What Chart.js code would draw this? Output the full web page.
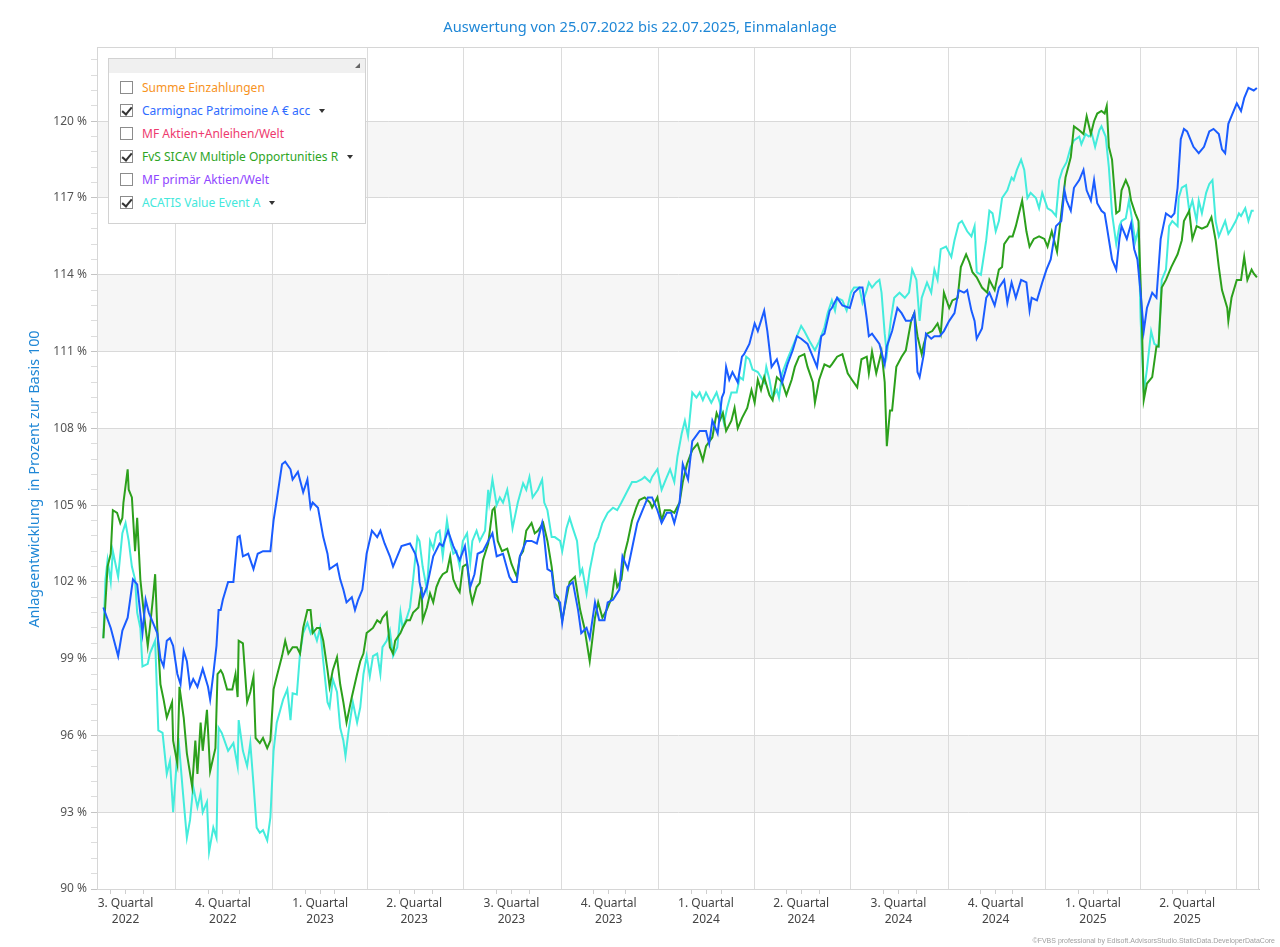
<!DOCTYPE html>
<html>
<head>
<meta charset="utf-8">
<script src="https://cdn.jsdelivr.net/npm/chart.js@4.4.0/dist/chart.umd.min.js"></script>
<style>
html,body{margin:0;padding:0;background:#fff;}
#wrap{position:relative;width:1280px;height:947px;overflow:hidden;}
canvas{display:block;}
#legend{position:absolute;left:108px;top:58px;width:258px;height:166px;border:1px solid #d2d2d2;background:#fff;box-sizing:border-box;font-family:'Noto Sans','Open Sans',sans-serif;font-size:12px;}
#legend .head{position:absolute;left:0;top:0;right:0;height:14px;background:#f0f0f0;}
#legend .grip{position:absolute;right:5px;top:4px;width:0;height:0;border-left:5px solid transparent;border-bottom:5px solid #666;}
#legend .row{position:absolute;left:11px;height:18px;line-height:18px;white-space:nowrap;}
#legend .box{position:absolute;left:0;top:2px;width:13px;height:13px;border:1px solid #8c8c8c;box-sizing:border-box;background:#fff;}
#legend .chk{position:absolute;left:3px;top:0px;width:4px;height:8px;border-right:2px solid #333;border-bottom:2px solid #333;transform:rotate(40deg);}
#legend .txt{position:absolute;left:22px;top:0;}
#legend .dd{display:inline-block;width:0;height:0;border-left:3px solid transparent;border-right:3px solid transparent;border-top:4px solid #333;margin-left:9px;vertical-align:middle;position:relative;top:-1px;}
</style>
</head>
<body>
<div id="wrap">
<canvas id="c" width="1280" height="947"></canvas>
<div id="legend"><div class="head"><div class="grip"></div></div></div>
</div>
<script>
// ---------- data (x = days after 25.07.2022, y = % of base 100) ----------
const titleText = 'Auswertung von 25.07.2022 bis 22.07.2025, Einmalanlage';
const yAxisTitle = 'Anlageentwicklung  in Prozent zur Basis 100';
const creditText = '\u00A9FVBS professional by Edisoft.AdvisorsStudio.StaticData.DeveloperDataCore';

const carmignacDays = [0,7,14,18,23,28,32,37,40,43,
46,51,54,57,60,63,66,70,73,76,
79,82,85,89,94,99,101,104,107,109,
111,113,118,123,127,129,132,137,142,146,
151,158,161,164,169,172,177,179,184,189,
193,196,198,203,208,212,214,221,224,227,
230,235,238,241,245,249,254,259,262,266,
271,274,282,290,295,298,299,302,306,312,
318,321,326,331,337,342,347,351,354,359,
364,368,372,378,384,387,391,394,400,405,
410,415,417,420,424,427,432,434,439,444,
449,452,457,460,465,469,474,477,482,488,
491,496,501,505,510,515,519,524,528,533,
537,540,545,548,553,557,564,570,573,576,
581,585,587,589,592,595,600,604,606,611,
616,619,622,625,628,632,637,639,642,647,
652,656,660,666,671,675,679,682,687,689,
694,699,706,710,715,718,722,724,727,734,
739,741,746,751,755,759,764,767,770,772,
776,778,783,786,791,795,800,805,809,814,
817,821,824,826,831,835,838,843,847,852,
855,859,863,868,873,876,878,883,888,892,
896,901,906,909,911,915,918,923,927,930,
934,937,940,944,947,949,954,958,961,963,
968,972,975,978,981,984,987,992,996,1000,
1005,1010,1013,1016,1019,1022,1025,1028,1031,1036,
1041,1046,1050,1055,1058,1061,1064,1067,1072,1076,
1079,1083,1088,1091];
const carmignacValues = [101.0,100.2,99.1,100.1,100.6,102.1,101.9,100.0,101.3,100.8,
100.5,100.0,99.0,98.7,99.7,99.8,99.5,98.4,98.0,99.3,
98.9,97.9,98.2,97.9,98.6,97.9,97.4,98.4,99.5,100.9,
100.9,101.3,102.0,102.0,103.75,103.8,103.0,103.1,102.5,103.1,
103.2,103.2,104.4,105.2,106.6,106.7,106.4,106.0,106.3,105.5,
106.0,104.9,105.1,104.9,103.75,103.1,102.5,102.7,102.1,101.7,
101.2,101.4,100.9,101.3,101.7,103.1,104.0,103.75,104.0,103.5,
103.0,102.6,103.4,103.5,103.1,102.6,102.0,101.4,101.8,103.0,
103.5,103.4,104.0,103.4,102.85,103.4,101.8,102.3,103.1,103.2,
103.6,103.9,103.0,103.1,102.2,102.0,102.0,103.0,103.6,103.6,
103.5,104.3,103.7,102.5,102.4,101.4,101.2,100.4,101.8,102.0,
100.9,100.0,100.2,99.8,101.2,100.5,100.5,101.2,101.3,101.7,
103.0,102.5,103.5,104.3,104.8,105.3,105.3,104.8,104.3,104.7,
104.7,104.3,105.1,106.6,106.0,107.5,107.9,107.9,107.4,108.3,
107.8,109.2,109.4,110.4,109.9,110.2,109.8,110.8,110.9,111.3,
112.1,111.8,112.2,112.6,111.8,110.4,110.7,110.4,109.8,110.5,
111.05,111.6,111.5,111.3,110.8,110.4,111.6,111.7,112.6,112.7,
113.1,112.8,112.7,113.3,113.5,113.5,112.3,111.6,111.7,111.3,
110.5,111.2,111.8,112.7,112.5,112.2,112.2,112.5,110.2,110.0,
110.9,111.7,111.5,111.6,111.6,111.8,112.2,112.5,113.4,113.3,
113.4,112.6,112.2,111.5,111.9,113.1,113.3,112.8,113.5,113.8,
112.9,113.7,113.1,113.8,113.7,112.6,113.1,113.0,113.7,114.2,
114.6,115.9,116.1,117.3,116.9,116.5,117.4,117.7,118.1,117.3,
116.9,117.7,116.8,116.5,116.4,115.9,114.6,114.2,115.4,115.9,
115.4,116.0,115.0,114.6,113.3,111.8,112.7,113.3,113.1,115.4,
116.4,116.25,116.4,117.4,119.3,119.7,119.6,119.3,119.0,118.75,
119.0,119.6,119.7,119.5,118.9,118.75,119.9,120.2,120.7,120.4,
120.9,121.3,121.2,121.3];

const fvsDays = [0,4,7,9,13,16,18,19,23,24,
27,30,32,35,38,42,44,47,49,51,
54,57,60,65,66,70,72,76,79,84,
87,89,92,94,98,101,106,108,111,113,
117,122,125,127,128,132,136,139,142,144,
148,151,155,158,161,164,169,172,175,179,
183,186,189,193,196,198,202,205,208,212,
214,217,221,224,227,230,235,240,243,246,
249,252,255,259,262,264,268,271,274,276,
281,283,287,290,293,298,301,302,306,309,
312,315,318,321,325,328,331,334,337,340,
344,347,349,353,356,359,364,368,370,373,
377,382,386,391,394,397,400,405,408,411,
416,420,424,427,430,434,441,446,451,455,
460,465,468,472,476,481,484,486,490,493,
496,500,504,507,512,517,519,524,528,531,
536,540,545,548,552,557,562,567,570,576,
580,583,586,589,594,597,600,604,609,613,
616,619,622,625,630,633,637,642,646,651,
654,658,663,666,671,673,677,682,687,689,
694,699,704,708,713,717,722,724,727,731,
736,739,741,744,746,750,755,759,764,767,
770,774,776,779,784,789,792,795,800,803,
808,811,816,819,822,826,831,836,838,843,
847,850,852,857,860,863,866,869,873,876,
880,885,890,893,897,902,906,910,915,918,
923,927,930,934,937,940,944,947,949,951,
954,958,961,963,967,970,972,976,979,982,
984,987,992,996,998,1001,1005,1010,1016,1020,
1022,1027,1030,1034,1039,1044,1048,1052,1055,1058,
1063,1064,1067,1072,1076,1079,1082,1086,1088,1091];
const fvsValues = [99.8,102.6,103.1,104.8,104.7,104.3,104.5,105.1,106.4,105.6,
105.3,103.2,104.5,102.1,100.9,99.5,100.2,101.4,102.3,100.2,
98.0,97.4,96.7,97.3,95.8,94.9,97.9,96.7,95.3,94.0,
95.8,94.5,96.5,95.4,97.0,94.6,95.5,98.4,98.55,98.4,
97.8,97.8,98.4,97.5,99.7,99.6,97.3,97.7,98.3,95.9,
95.7,95.9,95.5,95.8,97.8,98.3,99.1,99.7,99.2,99.45,
99.45,99.2,100.2,100.9,100.9,100.0,100.2,100.2,99.7,98.55,
97.9,98.55,99.06,98.0,97.3,96.5,97.5,98.4,98.9,99.2,
100.0,100.1,100.2,100.5,100.4,100.6,100.8,99.45,99.2,99.7,
100.0,100.2,100.5,100.5,100.8,101.0,101.8,100.5,101.0,101.55,
101.2,101.8,102.1,102.3,102.4,103.0,102.1,101.8,101.6,102.6,
102.7,101.6,101.2,101.8,101.95,102.85,103.5,104.8,104.9,103.6,
103.2,103.3,102.7,102.2,103.0,103.2,104.0,104.3,103.9,104.0,
104.3,103.6,102.6,101.55,101.4,100.5,102.0,102.2,100.9,100.2,
98.9,100.6,101.2,100.6,100.9,101.4,102.3,101.8,102.1,103.1,
103.6,104.4,104.9,105.2,105.3,105.1,104.9,105.3,104.4,104.8,
104.8,104.7,105.1,105.9,106.6,107.15,107.4,106.75,107.3,107.65,
108.6,108.3,108.6,107.9,108.3,108.8,108.0,108.4,108.8,109.5,
109.0,109.9,109.5,110.0,109.3,109.1,110.0,109.8,109.3,109.9,
110.4,110.8,110.9,110.4,109.8,109.0,109.9,110.5,110.4,110.5,
110.8,110.9,110.15,109.9,109.6,110.7,110.8,110.15,111.0,110.15,
111.0,109.8,107.3,108.7,108.7,110.4,110.8,111.05,112.2,112.5,
111.6,110.9,111.3,111.7,111.8,112.1,111.7,113.3,112.7,113.0,
113.1,114.3,114.8,114.5,114.1,113.9,113.5,113.3,113.8,113.4,
114.2,114.3,115.2,115.5,115.5,115.9,116.4,116.9,115.7,115.1,
115.4,115.5,115.4,115.1,115.7,114.9,116.4,117.8,118.6,119.8,
119.65,119.5,120.2,119.5,120.0,120.3,120.4,120.3,120.6,119.0,
118.5,116.4,116.5,117.3,117.7,117.4,116.9,116.4,116.1,112.5,
109.1,109.75,110.0,111.2,111.2,113.5,113.8,114.3,114.8,115.35,
116.1,116.5,115.4,115.9,115.8,115.9,116.25,115.35,114.3,113.4,
112.7,112.2,113.1,113.8,113.8,114.7,113.8,114.2,114.05,113.9];

const acatisDays = [0,2,4,7,9,14,18,21,24,27,
30,32,35,37,42,44,49,52,56,60,
63,66,71,75,79,82,85,89,92,94,
98,100,104,107,109,112,118,123,127,128,
132,136,139,142,145,148,151,155,158,161,
164,170,174,177,179,183,186,189,193,196,
198,202,205,208,212,214,217,221,224,227,
229,232,236,240,243,246,249,252,255,259,
262,264,268,271,274,278,281,283,287,290,
293,297,299,302,306,309,312,315,318,321,
325,328,331,334,337,340,344,347,349,353,
356,361,364,365,368,372,375,378,382,384,
387,392,397,400,403,406,411,415,417,420,
424,427,432,434,438,441,444,448,451,453,
457,460,465,468,472,477,482,486,490,495,
500,504,509,512,517,519,524,528,533,536,
540,543,547,550,553,557,561,564,567,570,
575,580,583,587,590,594,599,602,605,608,
611,614,619,622,625,627,630,633,637,639,
642,647,652,656,660,663,668,673,677,682,
685,689,692,694,699,703,707,710,715,718,
722,724,727,731,734,736,739,741,745,748,
753,758,762,765,769,772,774,779,783,786,
789,792,797,802,805,809,812,817,821,824,
826,830,835,838,841,844,847,850,855,859,
861,864,868,871,874,877,882,885,888,893,
897,901,904,907,911,915,918,923,925,929,
932,935,938,942,944,948,951,954,958,961,
963,967,970,972,976,979,981,984,987,991,
994,998,1001,1005,1008,1011,1016,1017,1020,1024,
1027,1030,1034,1036,1039,1043,1046,1049,1052,1055,
1058,1061,1064,1067,1071,1074,1076,1080,1083,1086,
1088];
const acatisValues = [99.8,102.1,102.85,102.0,103.2,102.2,103.9,104.3,103.6,102.6,
102.1,100.8,100.2,98.7,98.8,99.2,99.7,96.2,96.1,94.5,
95.0,93.0,95.9,93.9,92.0,92.7,94.0,93.2,93.75,93.0,
93.4,91.45,92.4,92.0,96.3,96.1,95.4,95.7,94.8,96.6,
95.4,94.8,95.7,94.1,92.4,92.2,92.3,91.9,92.8,95.4,
96.5,97.4,97.8,96.6,97.65,97.6,99.2,100.0,100.4,100.0,
100.2,99.7,100.2,98.9,97.3,97.1,98.2,97.7,96.3,95.8,
95.2,96.2,97.3,96.5,97.1,98.4,99.1,98.3,99.1,99.2,
98.4,99.45,99.7,100.1,99.1,99.45,100.8,100.2,100.6,101.0,
102.1,103.75,103.6,102.6,101.7,103.6,103.3,103.9,104.0,103.0,
104.4,103.6,103.1,103.2,102.6,103.6,103.9,102.75,103.6,104.0,
103.6,104.0,105.6,105.1,106.0,105.0,105.3,105.1,105.6,105.1,
104.1,105.1,105.85,105.6,106.1,105.3,105.6,106.0,105.1,104.8,
103.75,103.75,103.6,103.2,104.1,104.5,104.1,103.6,102.3,102.5,
101.55,102.45,103.5,103.75,104.3,104.7,104.9,104.8,105.1,105.5,
105.9,105.9,106.0,106.1,105.9,106.1,106.4,105.6,106.1,106.4,
105.9,106.9,107.8,108.3,107.7,109.4,109.2,109.4,109.1,109.4,
109.0,109.4,109.0,108.2,108.8,109.4,109.4,110.0,109.9,110.8,
110.7,110.3,110.2,110.0,109.8,110.4,109.9,109.2,109.5,109.2,
110.15,110.7,111.2,111.6,112.0,111.8,111.4,111.05,111.4,111.95,
112.5,113.0,112.6,113.1,113.0,112.6,113.3,113.5,113.5,112.9,
113.4,113.7,113.5,113.7,113.8,113.3,111.7,110.9,112.3,113.1,
113.3,113.1,113.3,114.2,113.8,112.2,113.1,113.7,113.3,114.2,
113.8,115.0,115.1,114.7,115.35,116.0,116.1,115.7,115.5,115.9,
114.1,114.0,115.35,116.5,116.4,115.7,116.1,117.0,117.3,117.8,
117.7,118.1,118.5,118.1,117.0,117.2,117.0,116.6,117.2,116.6,
116.5,116.3,117.7,118.1,118.4,119.0,119.25,119.4,119.1,119.5,
119.4,119.5,119.0,119.65,119.8,119.4,118.2,116.4,115.2,115.9,
116.1,116.2,116.9,116.4,115.3,115.8,112.3,109.4,110.3,111.8,
111.3,111.2,113.8,114.2,115.9,116.1,115.9,117.0,117.4,117.5,
116.5,116.9,116.1,116.9,116.4,117.2,117.55,117.7,116.1,115.5,
115.8,116.1,115.6,115.8,116.1,116.4,116.3,116.6,116.1,116.5,
116.5];

const seriesNames = ['Carmignac Patrimoine A \u20AC acc','FvS SICAV Multiple Opportunities R','ACATIS Value Event A'];
const seriesColors = ['#1a5cff','#2ca01c','#44ecdc'];

const legendNames = ['Summe Einzahlungen','Carmignac Patrimoine A \u20AC acc','MF Aktien+Anleihen/Welt','FvS SICAV Multiple Opportunities R','MF prim\u00E4r Aktien/Welt','ACATIS Value Event A'];
const legendColors = ['#f7931e','#2f6cff','#ee3a6e','#2ea51f','#8f46ff','#44e8dc'];
const legendChecked = [false,true,false,true,false,true];

const yMajorTicks = [90,93,96,99,102,105,108,111,114,117,120];
const yMinorStep = 0.6;
const yMin = 90, yMax = 122.9;
const grayBands = [[93,96],[99,102],[105,108],[111,114],[117,120]];

const quarterStarts = [68,160,250,341,433,525,616,707,799,891,981,1072];
const monthStarts = [7,38,99,129,191,219,280,311,372,403,464,494,556,585,646,677,738,769,830,860,922,950,1011,1042];
const quarterLabelDays = [21,113,205,294,386,478,570,660,752,844,936,1025];
const quarterLabels = [['3. Quartal','2022'],['4. Quartal','2022'],['1. Quartal','2023'],['2. Quartal','2023'],['3. Quartal','2023'],['4. Quartal','2023'],['1. Quartal','2024'],['2. Quartal','2024'],['3. Quartal','2024'],['4. Quartal','2024'],['1. Quartal','2025'],['2. Quartal','2025']];
const xMin = -6, xMax = 1093;

// ---------- build ----------
const FONT = "'Noto Sans','Open Sans',sans-serif";
const toPts = (days, vals) => vals.map((v, i) => ({x: days[i], y: v}));
const seriesData = [toPts(carmignacDays, carmignacValues), toPts(fvsDays, fvsValues), toPts(acatisDays, acatisValues)];

const yAllTicks = [];
for (let k = 0; yMin + k * yMinorStep <= yMax + 1e-9; k++) yAllTicks.push(Math.round((yMin + k * yMinorStep) * 100) / 100);
const isMajorY = v => yMajorTicks.some(m => Math.abs(m - v) < 1e-6);

const xAllTicks = Array.from(new Set([...quarterStarts, ...monthStarts, ...quarterLabelDays])).sort((a, b) => a - b);
const isQuarter = v => quarterStarts.includes(v);
const labelIdx = v => quarterLabelDays.indexOf(v);

// legend (html text)
const leg = document.getElementById('legend');
const rowTops = [20, 43, 66, 89, 112, 135];
legendNames.forEach((n, i) => {
  const r = document.createElement('div');
  r.className = 'row';
  r.style.top = rowTops[i] + 'px';
  const b = document.createElement('div'); b.className = 'box';
  if (legendChecked[i]) { const c = document.createElement('div'); c.className = 'chk'; b.appendChild(c); }
  r.appendChild(b);
  const t = document.createElement('div'); t.className = 'txt'; t.style.color = legendColors[i];
  t.textContent = n;
  if (legendChecked[i]) { const d = document.createElement('span'); d.className = 'dd'; t.appendChild(d); }
  r.appendChild(t);
  leg.appendChild(r);
});

const bandsPlugin = {
  id: 'bands',
  beforeDraw(chart) {
    const {ctx, chartArea: a, scales: {y}} = chart;
    ctx.save();
    ctx.fillStyle = '#f6f6f6';
    grayBands.forEach(([lo, hi]) => {
      const t = y.getPixelForValue(hi), bt = y.getPixelForValue(lo);
      ctx.fillRect(a.left, t, a.right - a.left, bt - t);
    });
    ctx.restore();
  },
  afterDraw(chart) {
    const {ctx, chartArea: a} = chart;
    ctx.save();
    ctx.strokeStyle = '#d6d6d6';
    ctx.lineWidth = 1;
    ctx.strokeRect(a.left + 0.5, a.top + 0.5, a.right - a.left - 1, a.bottom - a.top);
    ctx.fillStyle = '#1f87d6';
    ctx.textAlign = 'center';
    ctx.textBaseline = 'middle';
    ctx.font = '14.6px ' + FONT;
    ctx.fillText(titleText, 640, 28);
    ctx.font = '14.4px ' + FONT;
    ctx.translate(35, 479);
    ctx.rotate(-Math.PI / 2);
    ctx.fillText(yAxisTitle, 0, 0);
    ctx.restore();
    ctx.save();
    ctx.fillStyle = '#a0a0a0';
    ctx.font = "7px 'Liberation Sans', Arial, sans-serif";
    ctx.textAlign = 'right';
    ctx.textBaseline = 'middle';
    ctx.fillText(creditText, 1275, 941);
    ctx.restore();
  }
};

new Chart(document.getElementById('c'), {
  type: 'line',
  data: {
    datasets: seriesNames.map((n, i) => ({
      label: n,
      data: seriesData[i],
      borderColor: seriesColors[i],
      backgroundColor: seriesColors[i],
      borderWidth: 2,
      pointRadius: 0,
      tension: 0,
      fill: false,
      order: i
    }))
  },
  options: {
    responsive: false,
    animation: false,
    devicePixelRatio: 1,
    layout: {padding: {top: 47, right: 21, left: 0, bottom: 0}},
    plugins: {legend: {display: false}, tooltip: {enabled: false}, title: {display: false}},
    scales: {
      x: {
        type: 'linear', min: xMin, max: xMax,
        afterBuildTicks(s) { s.ticks = xAllTicks.map(v => ({value: v})); },
        afterFit(s) { s.height = 58; },
        border: {color: '#c8c8c8'},
        grid: {
          color: c => (c.tick && isQuarter(c.tick.value)) ? '#dcdcdc' : 'rgba(0,0,0,0)',
          tickColor: c => (c.tick && isQuarter(c.tick.value)) ? 'rgba(0,0,0,0)' : '#cfcfcf',
          tickLength: 5, lineWidth: 1
        },
        ticks: {
          autoSkip: false, maxRotation: 0, minRotation: 0, padding: 2,
          color: '#444', font: {family: FONT, size: 12, lineHeight: 1.3},
          callback: v => { const k = labelIdx(v); return k >= 0 ? quarterLabels[k] : ''; }
        }
      },
      y: {
        min: yMin, max: yMax,
        afterBuildTicks(s) { s.ticks = yAllTicks.map(v => ({value: v})); },
        afterFit(s) { s.width = 97; },
        border: {color: '#c8c8c8'},
        grid: {
          color: c => (c.tick && isMajorY(c.tick.value)) ? '#d9d9d9' : 'rgba(0,0,0,0)',
          tickColor: c => (c.tick && isMajorY(c.tick.value)) ? '#c4c4c4' : '#dddddd',
          tickLength: 6, lineWidth: 1
        },
        ticks: {
          autoSkip: false, padding: 4, color: '#555', font: {family: FONT, size: 12},
          callback: v => isMajorY(v) ? (Math.round(v) + ' %') : ''
        }
      }
    }
  },
  plugins: [bandsPlugin]
});
</script>
</body>
</html>
